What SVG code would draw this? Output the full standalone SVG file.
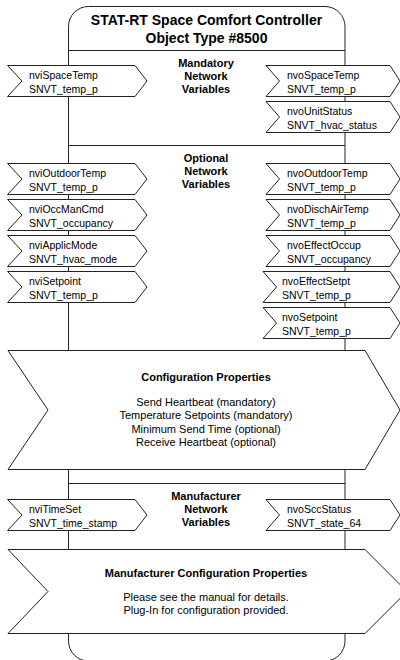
<svg xmlns="http://www.w3.org/2000/svg" xmlns:xlink="http://www.w3.org/1999/xlink" width="400" height="660" viewBox="0 0 400 660">
<style>
.ln{fill:none;stroke:#222;stroke-width:1}
.bd{fill:#fff;stroke:#222;stroke-width:1}
.ch{fill:#fff;stroke:#222;stroke-width:1;stroke-linejoin:miter}
text{font-family:"Liberation Sans",Arial,Helvetica,sans-serif;fill:#000}
.t{font-size:10.5px}
.c{font-size:11px;text-anchor:middle}
.s{font-size:11px;font-weight:bold;text-anchor:middle}
.h{font-size:14px;font-weight:bold;text-anchor:middle}
</style>
<defs>
<path id="lchev" class="ch" d="M7.5,0 H135 L147,15.5 L135,31 H7.5 L22,15.5 Z"/>
<path id="rchev" class="ch" d="M266,0 H390 L400,15.5 L390,31 H266 L279.5,15.5 Z"/>
<path id="rchev2" class="ch" d="M263,0 H390 L400,15.5 L390,31 H263 L276.5,15.5 Z"/>
</defs>
<rect width="400" height="660" fill="#fff"/>
<g id="object">
<rect class="bd" x="68.5" y="6.5" width="276.5" height="654.5" rx="20" ry="20"/>
<text class="h" x="206.5" y="25">STAT-RT Space Comfort Controller</text>
<text class="h" x="206.5" y="43">Object Type #8500</text>
</g>
<g id="connectors">
<line class="ln" x1="68.5" y1="50.5" x2="345" y2="50.5"/>
<line class="ln" x1="68.5" y1="145.5" x2="345" y2="145.5"/>
<line class="ln" x1="68.5" y1="350.5" x2="345" y2="350.5"/>
<line class="ln" x1="68.5" y1="483.5" x2="345" y2="483.5"/>
</g>
<g id="mandatory-label">
<text class="s" x="206" y="67">Mandatory</text>
<text class="s" x="206" y="80">Network</text>
<text class="s" x="206" y="93">Variables</text>
</g>
<g id="nviSpaceTemp"><use xlink:href="#lchev" y="65.5"/><text class="t" x="29" y="78.5">nviSpaceTemp</text><text class="t" x="29" y="92.5">SNVT_temp_p</text></g>
<g id="nvoSpaceTemp"><use xlink:href="#rchev" y="65.5"/><text class="t" x="287" y="78.5">nvoSpaceTemp</text><text class="t" x="287" y="92.5">SNVT_temp_p</text></g>
<g id="nvoUnitStatus"><use xlink:href="#rchev" y="101.5"/><text class="t" x="287" y="114.5">nvoUnitStatus</text><text class="t" x="287" y="128.5">SNVT_hvac_status</text></g>
<g id="optional-label">
<text class="s" x="206" y="162">Optional</text>
<text class="s" x="206" y="175">Network</text>
<text class="s" x="206" y="188">Variables</text>
</g>
<g id="nviOutdoorTemp"><use xlink:href="#lchev" y="163.5"/><text class="t" x="29" y="176.5">nviOutdoorTemp</text><text class="t" x="29" y="190.5">SNVT_temp_p</text></g>
<g id="nviOccManCmd"><use xlink:href="#lchev" y="199.5"/><text class="t" x="29" y="212.5">nviOccManCmd</text><text class="t" x="29" y="226.5">SNVT_occupancy</text></g>
<g id="nviApplicMode"><use xlink:href="#lchev" y="235.5"/><text class="t" x="29" y="248.5">nviApplicMode</text><text class="t" x="29" y="262.5">SNVT_hvac_mode</text></g>
<g id="nviSetpoint"><use xlink:href="#lchev" y="271.5"/><text class="t" x="29" y="284.5">nviSetpoint</text><text class="t" x="29" y="298.5">SNVT_temp_p</text></g>
<g id="nvoOutdoorTemp"><use xlink:href="#rchev" y="163.5"/><text class="t" x="287" y="176.5">nvoOutdoorTemp</text><text class="t" x="287" y="190.5">SNVT_temp_p</text></g>
<g id="nvoDischAirTemp"><use xlink:href="#rchev" y="199.5"/><text class="t" x="287" y="212.5">nvoDischAirTemp</text><text class="t" x="287" y="226.5">SNVT_temp_p</text></g>
<g id="nvoEffectOccup"><use xlink:href="#rchev" y="235.5"/><text class="t" x="287" y="248.5">nvoEffectOccup</text><text class="t" x="287" y="262.5">SNVT_occupancy</text></g>
<g id="nvoEffectSetpt"><use xlink:href="#rchev2" y="271.5"/><text class="t" x="282" y="284.5">nvoEffectSetpt</text><text class="t" x="282" y="298.5">SNVT_temp_p</text></g>
<g id="nvoSetpoint"><use xlink:href="#rchev2" y="307.5"/><text class="t" x="282" y="320.5">nvoSetpoint</text><text class="t" x="282" y="334.5">SNVT_temp_p</text></g>
<g id="config-properties">
<path class="ch" d="M8,350.5 H365 L400,410 L365,469.5 H8 L48,410 Z"/>
<text class="s" x="206" y="381">Configuration Properties</text>
<text class="c" x="206" y="406">Send Heartbeat (mandatory)</text>
<text class="c" x="206" y="419">Temperature Setpoints (mandatory)</text>
<text class="c" x="206" y="432.5">Minimum Send Time (optional)</text>
<text class="c" x="206" y="446">Receive Heartbeat (optional)</text>
</g>
<g id="manufacturer-label">
<text class="s" x="206" y="500">Manufacturer</text>
<text class="s" x="206" y="513">Network</text>
<text class="s" x="206" y="526">Variables</text>
</g>
<g id="nviTimeSet"><use xlink:href="#lchev" y="499.5"/><text class="t" x="29" y="512.5">nviTimeSet</text><text class="t" x="29" y="526.5">SNVT_time_stamp</text></g>
<g id="nvoSccStatus"><use xlink:href="#rchev" y="499.5"/><text class="t" x="287" y="512.5">nvoSccStatus</text><text class="t" x="287" y="526.5">SNVT_state_64</text></g>
<g id="manufacturer-config-properties">
<path class="ch" d="M8,549.5 H365 L407,591.5 L365,633.5 H8 L48,591.5 Z"/>
<text class="s" x="206" y="577">Manufacturer Configuration Properties</text>
<text class="c" x="206" y="600.5">Please see the manual for details.</text>
<text class="c" x="206" y="614">Plug-In for configuration provided.</text>
</g>
</svg>
